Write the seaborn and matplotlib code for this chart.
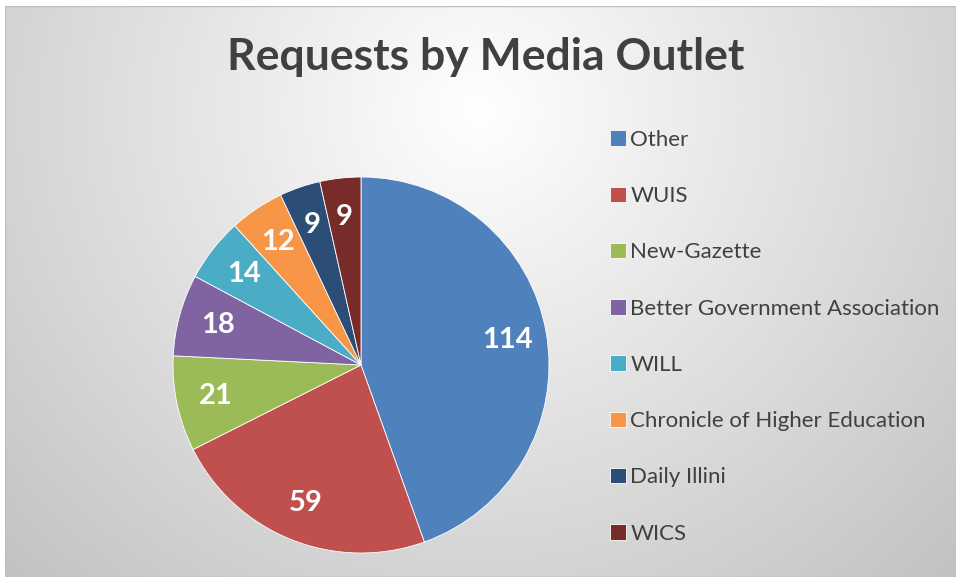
import numpy as np
import matplotlib
matplotlib.use("Agg")
import matplotlib.pyplot as plt
import seaborn as sns
from matplotlib.patches import Rectangle

# data
outlets = ["Other", "WUIS", "New-Gazette", "Better Government Association",
           "WILL", "Chronicle of Higher Education", "Daily Illini", "WICS"]
requests = [114, 59, 21, 18, 14, 12, 9, 9]
colors = ["#4F81BD", "#C0504D", "#9BBB59", "#8064A2",
          "#4BACC6", "#F79646", "#2C4D75", "#772C2A"]
title = "Requests by Media Outlet"

sns.set_theme(style="white")
plt.rcParams['font.family'] = ['Lato', 'DejaVu Sans']

W, H = 956, 577
fig = plt.figure(figsize=(W / 100, H / 100), dpi=100)
fig.patch.set_facecolor("white")

# radial gradient background of the chart area
bg = fig.add_axes([0, 0, 1, 1])
yy, xx = np.mgrid[0:H, 0:W]
d = np.sqrt(((xx - 478) / 478.0) ** 2 + ((yy - 110) / 467.0) ** 2) / np.sqrt(2)
shade = np.clip(1.0 - 0.24 * d, 0, 1)
img = np.dstack([shade, shade, shade])
bg.imshow(img, extent=(0, W, H, 0), aspect="auto", interpolation="bilinear")
bg.add_patch(Rectangle((5, 6), W - 5, H - 6, fill=False, ec="#bdbdbd", lw=1))
bg.add_patch(Rectangle((0, 0), 5, H, color="white", lw=0))
bg.add_patch(Rectangle((0, 0), W, 6, color="white", lw=0))
bg.set_xlim(0, W)
bg.set_ylim(H, 0)
bg.axis("off")

# pie
cx, cy, r = 361, 365, 188
ax = fig.add_axes([(cx - r) / W, (H - cy - r) / H, 2 * r / W, 2 * r / H])
wedges, texts = ax.pie(requests, colors=colors, startangle=90, counterclock=False,
                       labels=[str(v) for v in requests], labeldistance=0.79,
                       wedgeprops=dict(edgecolor="white", linewidth=0.6))
for t in texts:
    t.set_color("white")
    t.set_fontsize(21)
    t.set_fontweight("bold")
    t.set_ha("center")
    t.set_va("center")
ax.set_xlim(-1, 1)
ax.set_ylim(-1, 1)
ax.set_aspect("auto")
ax.axis("off")

fig.text(486 / W, 1 - 57 / H, title, ha="center", va="center",
         fontsize=32, fontweight="bold", color="#404040")

leg = fig.legend(wedges, outlets, loc="upper left",
                 bbox_to_anchor=(590 / W, 1 - 110 / H), frameon=False,
                 fontsize=16, labelcolor="#404040", handlelength=0.7,
                 handleheight=0.7, handletextpad=0.22, labelspacing=1.63)

fig.savefig("out.png", dpi=100)
